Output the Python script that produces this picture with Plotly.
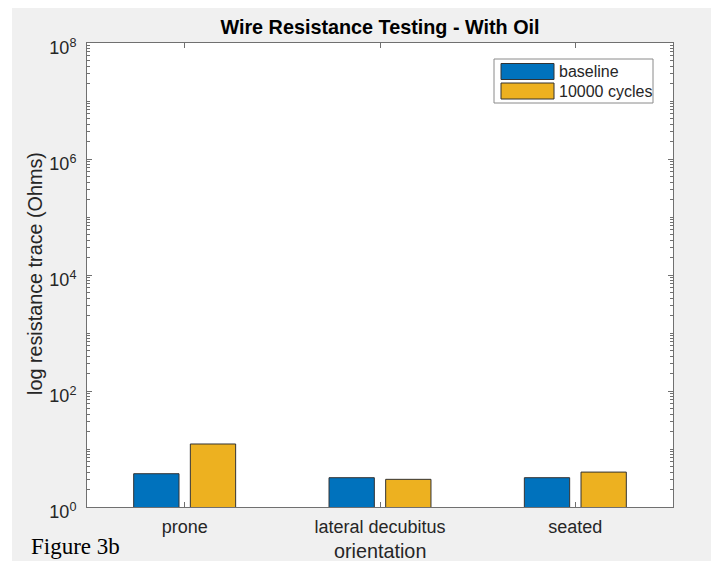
import plotly.graph_objects as go

# ---- data ----
categories = ["prone", "lateral decubitus", "seated"]
baseline = [3.75, 3.2, 3.2]
cycles_10000 = [12.2, 3.0, 4.0]
series_names = ["baseline", "10000 cycles"]
series_colors = ["#0072BD", "#EDB120"]
ytick_vals = [1, 1e2, 1e4, 1e6, 1e8]
ytick_text = ["10<sup>0</sup>", "10<sup>2</sup>", "10<sup>4</sup>", "10<sup>6</sup>", "10<sup>8</sup>"]

W, H = 711, 561
L, R, T, B = 87, 38, 43, 54
PW, PH = W - L - R, H - T - B


def px(x):
    return (x - L) / PW


def py(y):
    return (H - B - y) / PH


minor_vals = [m * 10 ** k for k in range(0, 8) for m in range(1, 10) if not (m == 1 and k % 2 == 0)]

FONT = "Liberation Sans, Arial, Helvetica, sans-serif"
AX = "#262626"
LINE = "#707070"

fig = go.Figure()
for name, vals, col in zip(series_names, [baseline, cycles_10000], series_colors):
    fig.add_trace(go.Bar(x=categories, y=vals, name=name, marker=dict(color=col, line=dict(color="#333333", width=1)),
                         showlegend=False))

shapes = [
    # white margins of screenshot
    dict(type="rect", xref="paper", yref="paper", x0=px(0), x1=px(12), y0=py(H), y1=py(0),
         fillcolor="white", line=dict(width=0), layer="below"),
    dict(type="rect", xref="paper", yref="paper", x0=px(0), x1=px(W), y0=py(8), y1=py(0),
         fillcolor="white", line=dict(width=0), layer="below"),
    # legend box
    dict(type="rect", xref="paper", yref="paper", x0=px(494), x1=px(653), y0=py(103), y1=py(59),
         fillcolor="white", line=dict(color="#8a8a8a", width=1)),
]
annotations = []
leg_rows = [(63.5, 79.5), (83, 99)]
for (y0, y1), name, col in zip(leg_rows, series_names, series_colors):
    shapes.append(dict(type="rect", xref="paper", yref="paper", x0=px(501), x1=px(554), y0=py(y1), y1=py(y0),
                       fillcolor=col, line=dict(color="#333333", width=1)))
    annotations.append(dict(xref="paper", yref="paper", x=px(557), y=py((y0 + y1) / 2), text=name,
                            showarrow=False, xanchor="left", yanchor="middle",
                            font=dict(family=FONT, size=16, color=AX)))

annotations += [
    dict(xref="paper", yref="paper", x=px(35), y=py(274), text="log resistance trace (Ohms)", textangle=-90,
         showarrow=False, xanchor="center", yanchor="middle", font=dict(family=FONT, size=19.8, color=AX)),
    dict(xref="paper", yref="paper", x=px(380), y=py(551), text="orientation",
         showarrow=False, xanchor="center", yanchor="middle", font=dict(family=FONT, size=19.8, color=AX)),
    dict(xref="paper", yref="paper", x=px(29), y=py(546), text="Figure 3b",
         showarrow=False, xanchor="left", yanchor="middle",
         font=dict(family="Liberation Serif, Times New Roman, serif", size=23, color="black")),
]

fig.update_layout(
    width=W, height=H,
    margin=dict(l=L, r=R, t=T, b=B, pad=0),
    paper_bgcolor="#f0f0f0", plot_bgcolor="white",
    barmode="group", bargap=0.42, bargroupgap=0.2,
    title=dict(text="<b>Wire Resistance Testing - With Oil</b>", x=0.5, xref="paper", xanchor="center",
               y=1 - 27 / H, yref="container", yanchor="middle",
               font=dict(family=FONT, size=19.8, color="black")),
    shapes=shapes, annotations=annotations,
    showlegend=False,
    xaxis=dict(type="category", range=[-0.5, 2.5], showline=True, linecolor=LINE, linewidth=1, mirror="ticks",
               ticks="inside", ticklen=5, tickcolor=LINE, showgrid=False, zeroline=False,
               tickfont=dict(family=FONT, size=18, color=AX), ticklabelstandoff=3),
    yaxis=dict(type="log", range=[0, 8], showline=True, linecolor=LINE, linewidth=1, mirror="ticks",
               tickvals=ytick_vals, ticktext=ytick_text, ticks="inside", ticklen=5, tickcolor=LINE,
               showgrid=False, zeroline=False, tickfont=dict(family=FONT, size=18, color=AX),
               ticklabelstandoff=6, ticklabelshift=5,
               minor=dict(tickvals=minor_vals, ticks="inside", ticklen=3, tickcolor=LINE, showgrid=False)),
)

fig.write_html("out.html")
